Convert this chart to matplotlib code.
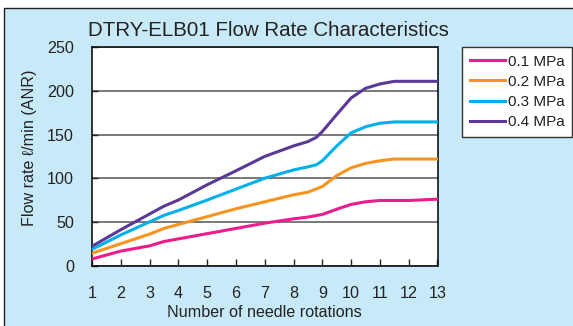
import matplotlib
matplotlib.use("Agg")
import matplotlib.pyplot as plt
from matplotlib.patches import Rectangle

plt.rcParams['font.family'] = ['Liberation Sans', 'DejaVu Sans']

# Needle rotations and measured flow (l/min ANR) at each supply pressure
rot_01 = [1, 2, 3, 3.5, 4, 5, 6, 7, 8, 8.5, 9, 9.5, 10, 10.5, 11, 12, 13]
flow_01 = [7.5, 16.5, 22.5, 27.5, 30.5, 36.5, 42.5, 48.5, 53.5, 55.5, 58.5, 64.5, 70, 73, 74.5, 74.5, 76]

rot_02 = [1, 2, 3, 3.5, 4, 5, 6, 7, 8, 8.5, 9, 9.5, 10, 10.5, 11, 11.5, 12, 13]
flow_02 = [14, 25, 36, 42.5, 47, 56, 65, 73, 81, 84, 90.5, 103, 112, 117, 120, 122, 122, 122]

rot_03 = [1, 2, 3, 3.5, 4, 5, 6, 7, 8, 8.5, 8.8, 9, 9.5, 10, 10.5, 11, 11.5, 12, 13]
flow_03 = [18.5, 35, 50, 57.5, 63, 75, 87.5, 100, 109.5, 113, 115.5, 120, 137, 152, 159, 163, 164.5, 164.5, 164.5]

rot_04 = [1, 2, 3, 3.5, 4, 5, 6, 7, 8, 8.5, 8.8, 9, 9.5, 10, 10.5, 11, 11.5, 12, 13]
flow_04 = [22, 41, 59, 68, 75, 92.5, 108.5, 125, 137, 142, 147, 153.5, 173, 192, 203, 208, 211, 211, 211]

series_labels = ["0.1 MPa", "0.2 MPa", "0.3 MPa", "0.4 MPa"]
series_colors = ["#ec1c8c", "#f7941d", "#00b0ec", "#5b3a97"]

x_ticks = list(range(1, 14))
y_ticks = [0, 50, 100, 150, 200, 250]

W, H = 573, 326
fig = plt.figure(figsize=(W / 100, H / 100), dpi=100)
fig.patch.set_facecolor("white")

# light-blue panel with a dark frame along the top and left edges
panel = Rectangle((4 / W, -0.05), 1.2, (H - 8) / H + 0.05, transform=fig.transFigure,
                  facecolor="#c8e9f8", edgecolor="#222222", linewidth=1.0, zorder=-10)
fig.patches.append(panel)

ax = fig.add_axes([92 / W, (H - 265.5) / H, (437.5 - 92) / W, (265.5 - 47.3) / H])
ax.set_facecolor("white")

for xs, ys, lab, col in zip([rot_01, rot_02, rot_03, rot_04],
                            [flow_01, flow_02, flow_03, flow_04],
                            series_labels, series_colors):
    ax.plot(xs, ys, color=col, linewidth=2.2, label=lab, solid_joinstyle="round", zorder=3)

ax.set_xlim(1, 13)
ax.set_ylim(0, 250)
ax.set_xticks(x_ticks)
ax.set_yticks(y_ticks)
ax.yaxis.grid(True, color="#555555", linewidth=1.1)
ax.set_axisbelow(True)

for sp in ax.spines.values():
    sp.set_color("#111111")
    sp.set_linewidth(1.2)

ax.tick_params(axis="x", direction="in", length=5, width=1, color="#222222",
               pad=14.5, labelsize=11.6, labelcolor="#222222")
ax.tick_params(axis="y", direction="in", length=4, width=1, color="#222222",
               pad=13, labelsize=11.6, labelcolor="#222222")

ax.set_xlabel("Number of needle rotations", fontsize=11.6, color="#222222", labelpad=3)
fig.text(30 / W, 1 - 147.5 / H, "Flow rate \u2113/min (ANR)", rotation=90,
         ha="center", va="center", fontsize=11.6, color="#222222")

fig.text(88 / W, 1 - 30 / H, "DTRY-ELB01 Flow Rate Characteristics",
         ha="left", va="center", fontsize=14.75, color="#222222")

leg = fig.legend(loc="upper left", bbox_to_anchor=(462 / W, 1 - 47 / H),
                 frameon=True, fancybox=False, fontsize=11, handlelength=2.3,
                 handletextpad=0.2, labelspacing=0.4, borderpad=0.5,
                 borderaxespad=0)
leg.get_frame().set_edgecolor("#333333")
leg.get_frame().set_linewidth(1.0)
leg.get_frame().set_facecolor("white")
leg.get_frame().set_alpha(1)
for t in leg.get_texts():
    t.set_color("#222222")

fig.savefig("out.png", dpi=100, facecolor=fig.get_facecolor())
